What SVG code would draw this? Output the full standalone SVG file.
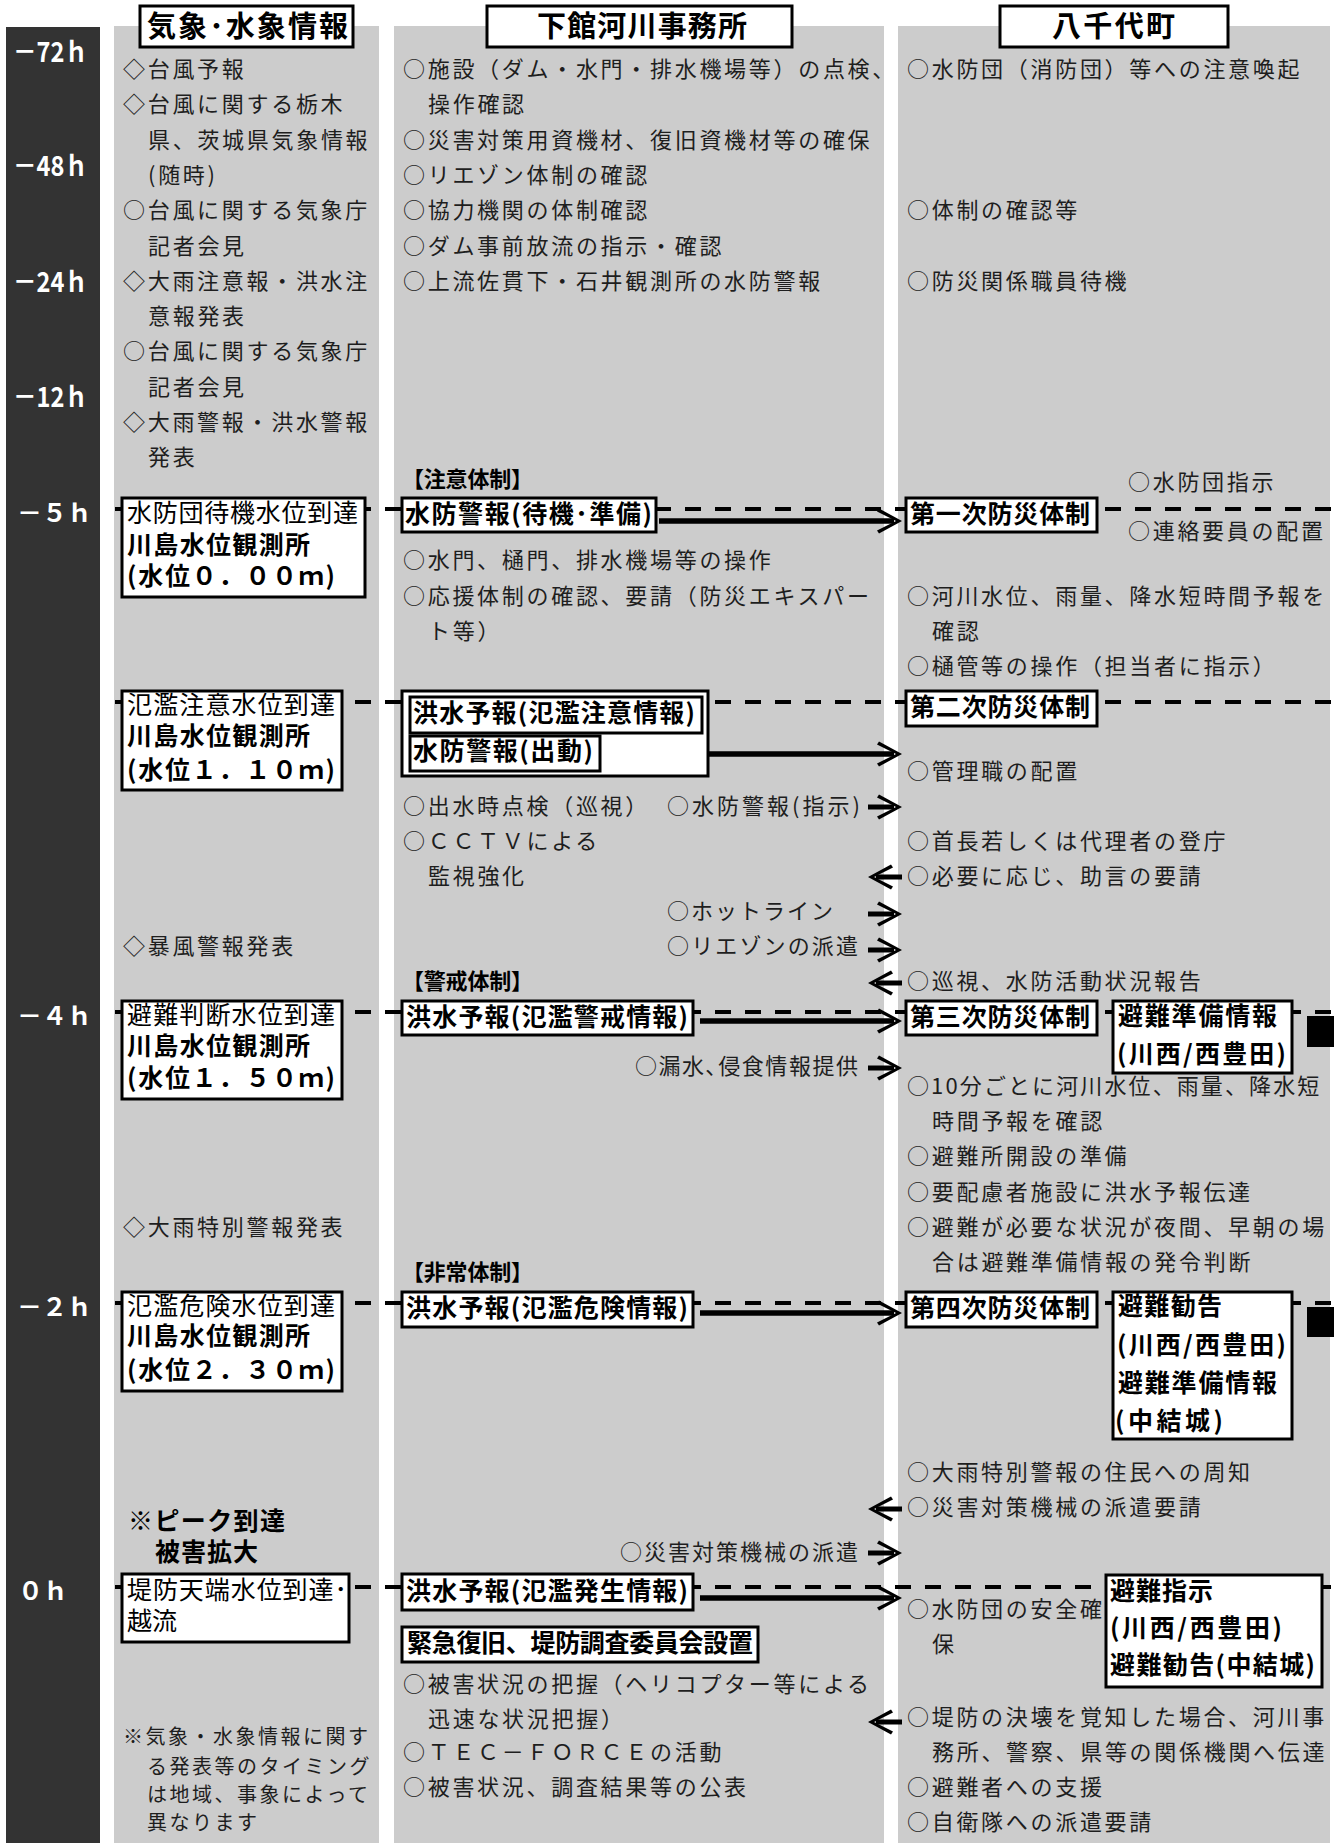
<svg xmlns="http://www.w3.org/2000/svg" width="1334" height="1843" viewBox="0 0 1334 1843">
<defs>
<style>
text{font-family:"Noto Sans CJK JP","Noto Sans CJK SC",sans-serif;}
.t{font-size:22px;letter-spacing:2.7px;fill:#1e1e1e;}
.tc{font-size:22px;letter-spacing:0;fill:#1e1e1e;}
.n{font-size:20px;letter-spacing:2.5px;fill:#1e1e1e;}
.b{font-size:25px;font-weight:700;fill:#000;}
.bs{font-size:22px;font-weight:700;fill:#000;}
.r{font-size:25px;fill:#000;}
.h{font-size:29px;font-weight:700;fill:#000;}
.tl{font-size:25px;font-weight:700;fill:#fff;}
.tn{font-size:28px;font-weight:700;fill:#fff;}
.bx{fill:#fff;stroke:#000;stroke-width:3;}
.col{fill:#cccccc;}
.dash{stroke:#000;stroke-width:4;stroke-dasharray:16 14;fill:none;}
.sol{stroke:#000;stroke-width:5.5;fill:none;marker-end:url(#ah);}
.sh{stroke:#000;stroke-width:5;fill:none;marker-end:url(#ah);}
</style>
<marker id="ah" markerUnits="userSpaceOnUse" viewBox="-18 -14 28 28" refX="0" refY="0" markerWidth="28" markerHeight="28" orient="auto" overflow="visible">
<path d="M8,0 L-15,-12.5 L-17,-9.5 L2,0 L-17,9.5 L-15,12.5 Z" fill="#000"/>
</marker>
</defs>
<rect width="1334" height="1843" fill="#fff"/>
<g id="timeline">
<rect x="6" y="27" width="94" height="1816" fill="#333"/>
<text class="tn" x="13" y="62" textLength="75" lengthAdjust="spacingAndGlyphs">－72ｈ</text>
<text class="tn" x="13" y="176" textLength="75" lengthAdjust="spacingAndGlyphs">－48ｈ</text>
<text class="tn" x="13" y="292" textLength="75" lengthAdjust="spacingAndGlyphs">－24ｈ</text>
<text class="tn" x="13" y="407" textLength="75" lengthAdjust="spacingAndGlyphs">－12ｈ</text>
<text class="tl" x="17" y="522">－５ｈ</text>
<text class="tl" x="17" y="1025">－４ｈ</text>
<text class="tl" x="17" y="1316">－２ｈ</text>
<text class="tl" x="18" y="1600">０ｈ</text>
</g>
<g id="columns">
<rect class="col" x="114" y="26" width="265" height="1817"/>
<rect class="col" x="394" y="26" width="490" height="1817"/>
<rect class="col" x="898" y="26" width="432" height="1817"/>
</g>
<g id="connectors">
<line class="dash" x1="115" y1="509" x2="1334" y2="509"/>
<line class="dash" x1="115" y1="702" x2="1334" y2="702"/>
<line class="dash" x1="115" y1="1012" x2="1334" y2="1012"/>
<line class="dash" x1="115" y1="1303" x2="1334" y2="1303"/>
<line class="dash" x1="115" y1="1587" x2="1334" y2="1587"/>
<line class="sol" x1="659" y1="521" x2="894" y2="521"/>
<line class="sol" x1="602" y1="754" x2="894" y2="754"/>
<line class="sol" x1="700" y1="1021" x2="894" y2="1021"/>
<line class="sol" x1="700" y1="1313" x2="894" y2="1313"/>
<line class="sol" x1="700" y1="1598" x2="894" y2="1598"/>
<line class="sh" x1="868" y1="807" x2="894" y2="807"/>
<line class="sh" x1="868" y1="914" x2="894" y2="914"/>
<line class="sh" x1="868" y1="950" x2="894" y2="950"/>
<line class="sh" x1="868" y1="1068" x2="894" y2="1068"/>
<line class="sh" x1="868" y1="1553" x2="894" y2="1553"/>
<line class="sh" x1="902" y1="877" x2="876" y2="877"/>
<line class="sh" x1="902" y1="983" x2="876" y2="983"/>
<line class="sh" x1="902" y1="1509" x2="876" y2="1509"/>
<line class="sh" x1="902" y1="1722" x2="876" y2="1722"/>
</g>
<g id="hdr-kisho"><rect class="bx" x="140" y="6" width="213" height="41"/><text class="h" x="147" y="37" textLength="201">気象･水象情報</text></g>
<g id="hdr-shimodate"><rect class="bx" x="487" y="6" width="305" height="41"/><text class="h" x="537" y="37" textLength="210">下館河川事務所</text></g>
<g id="hdr-yachiyo"><rect class="bx" x="1000" y="6" width="228" height="41"/><text class="h" x="1052" y="37" textLength="123">八千代町</text></g>
<g id="col1-text">
<text class="t" x="123" y="77">◇台風予報</text>
<text class="t" x="123" y="112">◇台風に関する栃木</text>
<text class="t" x="148" y="148">県、茨城県気象情報</text>
<text class="t" x="148" y="183">(随時)</text>
<text class="t" x="123" y="218">○台風に関する気象庁</text>
<text class="t" x="148" y="254">記者会見</text>
<text class="t" x="123" y="289">◇大雨注意報・洪水注</text>
<text class="t" x="148" y="324">意報発表</text>
<text class="t" x="123" y="359">○台風に関する気象庁</text>
<text class="t" x="148" y="395">記者会見</text>
<text class="t" x="123" y="430">◇大雨警報・洪水警報</text>
<text class="t" x="148" y="465">発表</text>
<text class="t" x="123" y="954">◇暴風警報発表</text>
<text class="t" x="123" y="1235">◇大雨特別警報発表</text>
<text class="b" x="128" y="1530" textLength="157">※ピーク到達</text>
<text class="b" x="155" y="1561" textLength="103">被害拡大</text>
<text class="n" x="123" y="1744">※気象・水象情報に関す</text>
<text class="n" x="147" y="1774">る発表等のタイミング</text>
<text class="n" x="147" y="1802">は地域、事象によって</text>
<text class="n" x="147" y="1830">異なります</text>
</g>
<g id="col2-text">
<text class="t" x="403" y="77">○施設（ダム・水門・排水機場等）の点検、</text>
<text class="t" x="428" y="112">操作確認</text>
<text class="t" x="403" y="148">○災害対策用資機材、復旧資機材等の確保</text>
<text class="t" x="403" y="183">○リエゾン体制の確認</text>
<text class="t" x="403" y="218">○協力機関の体制確認</text>
<text class="t" x="403" y="254">○ダム事前放流の指示・確認</text>
<text class="t" x="403" y="289">○上流佐貫下・石井観測所の水防警報</text>
<text class="bs" x="402" y="487" textLength="131">【注意体制】</text>
<text class="t" x="403" y="568">○水門、樋門、排水機場等の操作</text>
<text class="t" x="403" y="604">○応援体制の確認、要請（防災エキスパー</text>
<text class="t" x="428" y="639">ト等）</text>
<text class="t" x="403" y="814">○出水時点検（巡視）</text>
<text class="tc" x="667" y="814" textLength="193">○水防警報(指示)</text>
<text class="t" x="403" y="849">○ＣＣＴＶによる</text>
<text class="t" x="428" y="884">監視強化</text>
<text class="tc" x="667" y="919" textLength="166">○ホットライン</text>
<text class="tc" x="667" y="954" textLength="191">○リエゾンの派遣</text>
<text class="bs" x="402" y="989" textLength="131">【警戒体制】</text>
<text class="tc" x="635" y="1074" textLength="223">○漏水､侵食情報提供</text>
<text class="bs" x="402" y="1280" textLength="131">【非常体制】</text>
<text class="tc" x="620" y="1560" textLength="238">○災害対策機械の派遣</text>
<text class="t" x="403" y="1692">○被害状況の把握（ヘリコプター等による</text>
<text class="t" x="428" y="1727">迅速な状況把握）</text>
<text class="t" x="403" y="1760">○ＴＥＣ－ＦＯＲＣＥの活動</text>
<text class="t" x="403" y="1795">○被害状況、調査結果等の公表</text>
</g>
<g id="col3-text">
<text class="t" x="907" y="77">○水防団（消防団）等への注意喚起</text>
<text class="t" x="907" y="218">○体制の確認等</text>
<text class="t" x="907" y="289">○防災関係職員待機</text>
<text class="t" x="1128" y="490">○水防団指示</text>
<text class="t" x="1128" y="539">○連絡要員の配置</text>
<text class="t" x="907" y="604">○河川水位、雨量、降水短時間予報を</text>
<text class="t" x="932" y="639">確認</text>
<text class="t" x="907" y="674">○樋管等の操作（担当者に指示）</text>
<text class="t" x="907" y="779">○管理職の配置</text>
<text class="t" x="907" y="849">○首長若しくは代理者の登庁</text>
<text class="t" x="907" y="884">○必要に応じ、助言の要請</text>
<text class="t" x="907" y="989">○巡視、水防活動状況報告</text>
<text class="t" x="907" y="1094" textLength="415">○10分ごとに河川水位、雨量、降水短</text>
<text class="t" x="932" y="1129">時間予報を確認</text>
<text class="t" x="907" y="1164">○避難所開設の準備</text>
<text class="t" x="907" y="1200">○要配慮者施設に洪水予報伝達</text>
<text class="t" x="907" y="1235">○避難が必要な状況が夜間、早朝の場</text>
<text class="t" x="932" y="1270">合は避難準備情報の発令判断</text>
<text class="t" x="907" y="1480">○大雨特別警報の住民への周知</text>
<text class="t" x="907" y="1515">○災害対策機械の派遣要請</text>
<text class="t" x="907" y="1617">○水防団の安全確</text>
<text class="t" x="932" y="1652">保</text>
<text class="t" x="907" y="1725">○堤防の決壊を覚知した場合、河川事</text>
<text class="t" x="932" y="1760">務所、警察、県等の関係機関へ伝達</text>
<text class="t" x="907" y="1795">○避難者への支援</text>
<text class="t" x="907" y="1830">○自衛隊への派遣要請</text>
</g>
<g id="lv-standby"><rect class="bx" x="122" y="498" width="243" height="99"/>
<text class="r" x="127" y="522" textLength="231">水防団待機水位到達</text>
<text class="b" x="127" y="554" textLength="183">川島水位観測所</text>
<text class="b" x="127" y="585" textLength="208">(水位０．００ｍ)</text></g>
<g id="lv-caution"><rect class="bx" x="122" y="691" width="220" height="99"/>
<text class="r" x="127" y="714" textLength="208">氾濫注意水位到達</text>
<text class="b" x="127" y="745" textLength="183">川島水位観測所</text>
<text class="b" x="127" y="779" textLength="208">(水位１．１０ｍ)</text></g>
<g id="lv-judge"><rect class="bx" x="122" y="1001" width="220" height="98"/>
<text class="r" x="127" y="1024" textLength="208">避難判断水位到達</text>
<text class="b" x="127" y="1055" textLength="183">川島水位観測所</text>
<text class="b" x="127" y="1087" textLength="208">(水位１．５０ｍ)</text></g>
<g id="lv-danger"><rect class="bx" x="122" y="1292" width="220" height="99"/>
<text class="r" x="127" y="1315" textLength="208">氾濫危険水位到達</text>
<text class="b" x="127" y="1345" textLength="183">川島水位観測所</text>
<text class="b" x="127" y="1379" textLength="208">(水位２．３０ｍ)</text></g>
<g id="lv-top"><rect class="bx" x="122" y="1574" width="227" height="68"/>
<text class="r" x="127" y="1599" textLength="220">堤防天端水位到達･</text>
<text class="r" x="127" y="1630">越流</text></g>
<g id="w-standby"><rect class="bx" x="402" y="498" width="254" height="34"/><text class="b" x="405" y="523" textLength="247">水防警報(待機･準備)</text></g>
<g id="w-group2"><rect class="bx" x="402" y="691" width="306" height="85"/>
<rect class="bx" x="410" y="697" width="292" height="36"/><text class="b" x="413" y="722" textLength="282">洪水予報(氾濫注意情報)</text>
<rect class="bx" x="410" y="736" width="190" height="35"/><text class="b" x="413" y="760" textLength="180">水防警報(出動)</text></g>
<g id="f-warn"><rect class="bx" x="402" y="1001" width="291" height="34"/><text class="b" x="406" y="1026" textLength="282">洪水予報(氾濫警戒情報)</text></g>
<g id="f-danger"><rect class="bx" x="402" y="1292" width="291" height="35"/><text class="b" x="406" y="1317" textLength="282">洪水予報(氾濫危険情報)</text></g>
<g id="f-occur"><rect class="bx" x="402" y="1574" width="291" height="36"/><text class="b" x="406" y="1600" textLength="282">洪水予報(氾濫発生情報)</text></g>
<g id="emergency"><rect class="bx" x="402" y="1627" width="356" height="35"/><text class="b" x="407" y="1652" textLength="346">緊急復旧、堤防調査委員会設置</text></g>
<g id="sys1"><rect class="bx" x="906" y="498" width="191" height="34"/><text class="b" x="910" y="523" textLength="180">第一次防災体制</text></g>
<g id="sys2"><rect class="bx" x="906" y="691" width="191" height="35"/><text class="b" x="910" y="716" textLength="180">第二次防災体制</text></g>
<g id="sys3"><rect class="bx" x="906" y="1001" width="191" height="34"/><text class="b" x="910" y="1026" textLength="180">第三次防災体制</text></g>
<g id="sys4"><rect class="bx" x="906" y="1292" width="191" height="35"/><text class="b" x="910" y="1317" textLength="180">第四次防災体制</text></g>
<g id="evac1"><rect class="bx" x="1113" y="1001" width="179" height="72"/>
<text class="b" x="1118" y="1025" textLength="159">避難準備情報</text>
<text class="b" x="1117" y="1063" textLength="169">(川西/西豊田)</text></g>
<g id="evac2"><rect class="bx" x="1113" y="1292" width="179" height="147"/>
<text class="b" x="1118" y="1315" textLength="104">避難勧告</text>
<text class="b" x="1117" y="1354" textLength="169">(川西/西豊田)</text>
<text class="b" x="1118" y="1392" textLength="159">避難準備情報</text>
<text class="b" x="1115" y="1430" textLength="108">(中結城)</text></g>
<g id="evac3"><rect class="bx" x="1106" y="1575" width="216" height="112"/>
<text class="b" x="1110" y="1600" textLength="103">避難指示</text>
<text class="b" x="1110" y="1637" textLength="172">(川西/西豊田)</text>
<text class="b" x="1110" y="1674" textLength="205">避難勧告(中結城)</text></g>
<g id="marks">
<rect x="1307" y="1016" width="27" height="31" fill="#000"/>
<rect x="1307" y="1307" width="27" height="30" fill="#000"/>
</g>
</svg>
